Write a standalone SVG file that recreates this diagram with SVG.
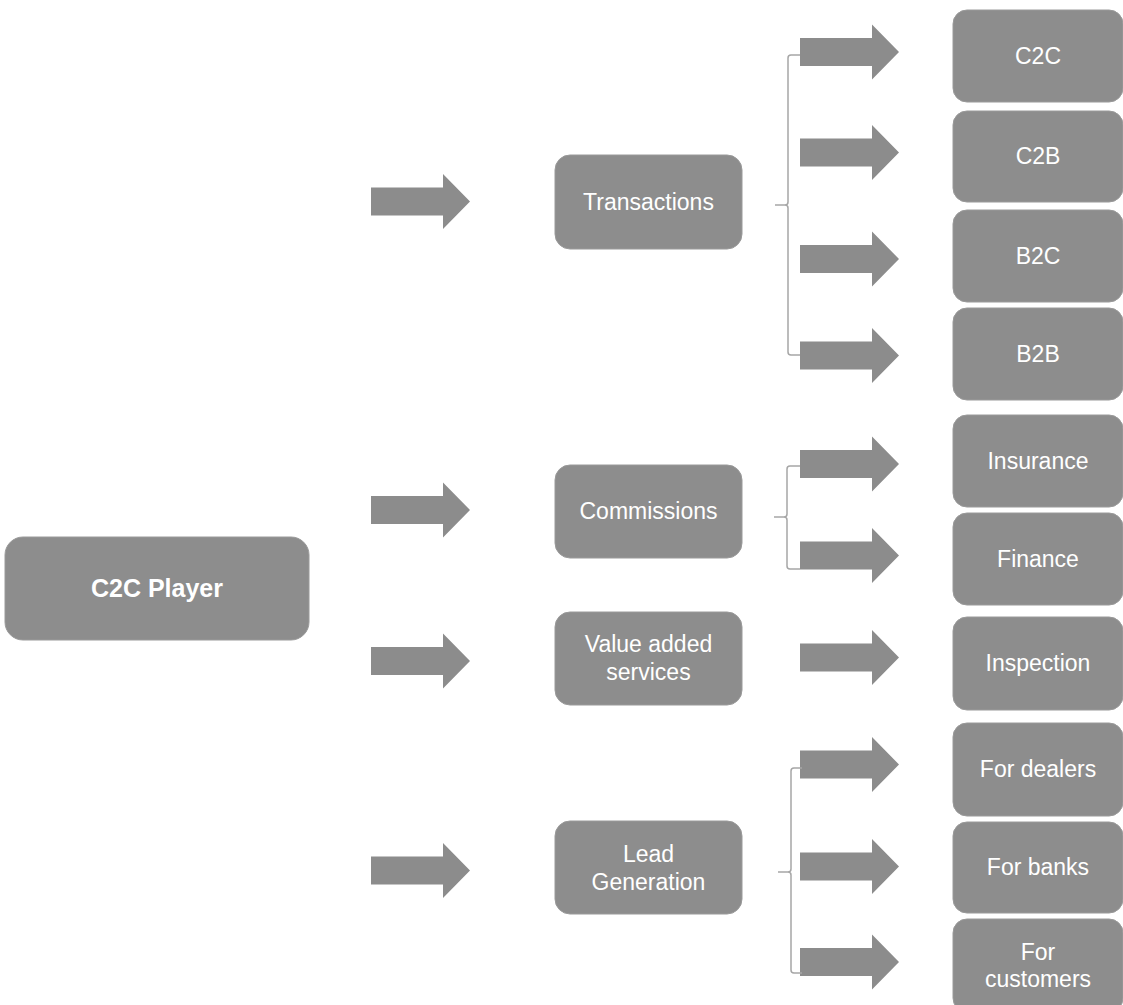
<svg xmlns="http://www.w3.org/2000/svg" xmlns:xlink="http://www.w3.org/1999/xlink" width="1123" height="1005" viewBox="0 0 1123 1005">
<style>
.box{fill:#8d8d8d;stroke:#9a9a9a;stroke-width:1}
.t{font-family:"Liberation Sans",Arial,sans-serif;font-size:23px;fill:#ffffff;text-anchor:middle}
.b{font-weight:bold;font-size:25px}
.brace{fill:none;stroke:#a6a6a6;stroke-width:1.5}
.arr{fill:#8c8c8c}
</style>
<defs>
<path id="arrow" class="arr" d="M0,-14 H72 V-27.5 L99,0 L72,27.5 V14 H0 Z"/>
</defs>
<rect width="1123" height="1005" fill="#ffffff"/>
<g id="connectors">
<use xlink:href="#arrow" x="371" y="201.5"/>
<use xlink:href="#arrow" x="371" y="510"/>
<use xlink:href="#arrow" x="371" y="661"/>
<use xlink:href="#arrow" x="371" y="870.5"/>
<use xlink:href="#arrow" x="800" y="52"/>
<use xlink:href="#arrow" x="800" y="152.5"/>
<use xlink:href="#arrow" x="800" y="259"/>
<use xlink:href="#arrow" x="800" y="355.5"/>
<use xlink:href="#arrow" x="800" y="464"/>
<use xlink:href="#arrow" x="800" y="555.5"/>
<use xlink:href="#arrow" x="800" y="657.5"/>
<use xlink:href="#arrow" x="800" y="764.5"/>
<use xlink:href="#arrow" x="800" y="866.5"/>
<use xlink:href="#arrow" x="800" y="962"/>
<path class="brace" d="M800,55 H791 Q788,55 788,58 V202 Q788,205 785,205 H775 M785,205 Q788,205 788,208 V352 Q788,355 791,355 H800"/>
<path class="brace" d="M800,466 H790 Q787,466 787,469 V514 Q787,517 784,517 H774 M784,517 Q787,517 787,520 V566 Q787,569 790,569 H800"/>
<path class="brace" d="M802,768 H794 Q791,768 791,771 V869 Q791,872 788,872 H778 M788,872 Q791,872 791,875 V970 Q791,973 794,973 H802"/>
</g>
<g id="c2c-player"><rect class="box" x="5" y="537" width="304" height="103" rx="18"/><text class="t b" x="157" y="597">C2C Player</text></g>
<g id="transactions"><rect class="box" x="555" y="155" width="187" height="94" rx="15"/><text class="t" x="648.5" y="210">Transactions</text></g>
<g id="commissions"><rect class="box" x="555" y="465" width="187" height="93" rx="15"/><text class="t" x="648.5" y="519">Commissions</text></g>
<g id="value-added"><rect class="box" x="555" y="612" width="187" height="93" rx="15"/><text class="t" x="648.5" y="652">Value added</text><text class="t" x="648.5" y="680">services</text></g>
<g id="lead-generation"><rect class="box" x="555" y="821" width="187" height="93" rx="15"/><text class="t" x="648.5" y="862">Lead</text><text class="t" x="648.5" y="890">Generation</text></g>
<g id="c2c"><rect class="box" x="953" y="10" width="170" height="92" rx="14"/><text class="t" x="1038" y="64">C2C</text></g>
<g id="c2b"><rect class="box" x="953" y="111" width="170" height="91" rx="14"/><text class="t" x="1038" y="164">C2B</text></g>
<g id="b2c"><rect class="box" x="953" y="210" width="170" height="92" rx="14"/><text class="t" x="1038" y="264">B2C</text></g>
<g id="b2b"><rect class="box" x="953" y="308" width="170" height="92" rx="14"/><text class="t" x="1038" y="362">B2B</text></g>
<g id="insurance"><rect class="box" x="953" y="415" width="170" height="92" rx="14"/><text class="t" x="1038" y="469">Insurance</text></g>
<g id="finance"><rect class="box" x="953" y="513" width="170" height="92" rx="14"/><text class="t" x="1038" y="567">Finance</text></g>
<g id="inspection"><rect class="box" x="953" y="617" width="170" height="93" rx="14"/><text class="t" x="1038" y="671">Inspection</text></g>
<g id="for-dealers"><rect class="box" x="953" y="723" width="170" height="93" rx="14"/><text class="t" x="1038" y="777">For dealers</text></g>
<g id="for-banks"><rect class="box" x="953" y="822" width="170" height="91" rx="14"/><text class="t" x="1038" y="875">For banks</text></g>
<g id="for-customers"><rect class="box" x="953" y="919" width="170" height="93" rx="14"/><text class="t" x="1038" y="960">For</text><text class="t" x="1038" y="987">customers</text></g>
</svg>
